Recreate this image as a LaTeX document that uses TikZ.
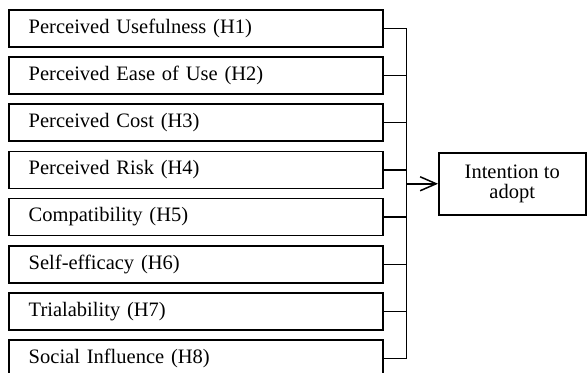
\documentclass[tikz,border=0pt]{standalone}
\usepackage{fontspec}
\setmainfont{Liberation Serif}
\usetikzlibrary{arrows.meta, positioning}

\begin{document}
\begin{tikzpicture}[
  node distance=4.35pt,
  factor/.style={rectangle, draw, minimum width=187pt, minimum height=18.5pt,
                 text width=167pt, inner xsep=10pt, align=left,
                 font=\fontsize{10.25pt}{12pt}\selectfont, line width=0.75pt},
  outcome/.style={rectangle, draw, minimum width=73.5pt, minimum height=31pt,
                  align=center, font=\fontsize{10.25pt}{10pt}\selectfont, line width=0.75pt},
  link/.style={line width=0.75pt},
  arrow/.style={-{Straight Barb[length=8pt,width=7pt]}, line width=0.75pt}]

  \useasboundingbox (0,0) rectangle (293.5pt,-186pt);

  \node[factor, anchor=north west] (H1) at (4pt,-4.5pt) {Perceived Usefulness (H1)};
  \node[factor, below=of H1] (H2) {Perceived Ease of Use (H2)};
  \node[factor, below=of H2] (H3) {Perceived Cost (H3)};
  \node[factor, below=of H3] (H4) {Perceived Risk (H4)};
  \node[factor, below=of H4] (H5) {Compatibility (H5)};
  \node[factor, below=of H5] (H6) {Self-efficacy (H6)};
  \node[factor, below=of H6] (H7) {Trialability (H7)};
  \node[factor, below=of H7] (H8) {Social Influence (H8)};
  \node[outcome, anchor=north west] (IA) at (219pt,-76pt) {Intention to\\adopt};

  \coordinate[right=11.5pt of H1.east] (bt);
  \coordinate[right=11.5pt of H8.east] (bb);
  \foreach \h in {1,...,8}
    \draw[link] (H\h.east) -- (H\h.east -| bt);
  \draw[link] (bt) -- (bb);
  \draw[arrow] (IA.west -| bt) -- (IA.west);
\end{tikzpicture}
\end{document}
